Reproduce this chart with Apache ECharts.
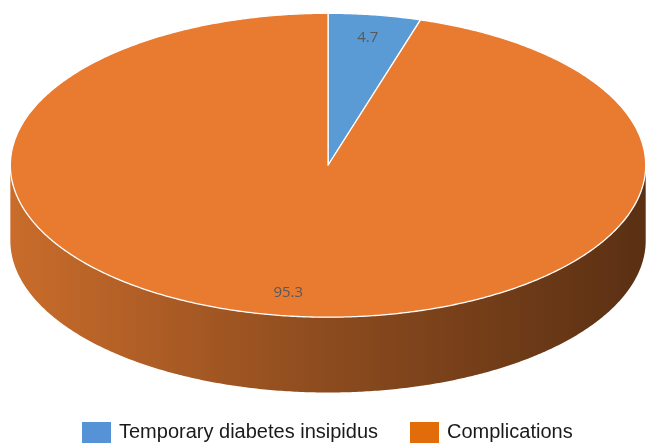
<!DOCTYPE html>
<html>
<head>
<meta charset="utf-8">
<script src="https://cdn.jsdelivr.net/npm/echarts@6/dist/echarts.min.js"></script>
<style>
html,body{margin:0;padding:0;background:#fff;}
#chart{width:647px;height:443px;}
</style>
</head>
<body>
<div id="chart"></div>
<script>
const categories = ['Temporary diabetes insipidus', 'Complications'];
const values = [4.7, 95.3];
const topColors = ['#5B9BD5', '#E97B31'];
const legendColors = ['#5592D6', '#E36C0A'];
const sideStops = ['#C96C2B', '#8C4B1E', '#5A3013'];

const total = values.reduce((a, b) => a + b, 0);

function renderItem(params, api) {
  const W = api.getWidth(), H = api.getHeight();
  const cx = W * 0.507, cy = H * 0.373, rx = W * 0.491, ry = H * 0.343, depth = H * 0.17;
  const v = api.value(0), i = api.value(1);
  let before = 0;
  for (let k = 0; k < i; k++) before += values[k];
  const start = before / total * 360;
  const end = start + v / total * 360;
  const pt = (deg, dy) => {
    const r = deg * Math.PI / 180;
    return [cx + rx * Math.sin(r), cy - ry * Math.cos(r) + (dy || 0)];
  };
  const children = [];
  // side wall (front half only)
  const a = Math.max(start, 90), b = Math.min(end, 270);
  if (a < b) {
    const pts = [];
    for (let t = a; t < b; t += 0.5) pts.push(pt(t));
    pts.push(pt(b));
    for (let t = b; t > a; t -= 0.5) pts.push(pt(t, depth));
    pts.push(pt(a, depth));
    children.push({
      type: 'polygon', z2: 1,
      shape: { points: pts },
      style: {
        fill: {
          type: 'linear', global: true, x: cx - rx, y: 0, x2: cx + rx, y2: 0,
          colorStops: [
            { offset: 0, color: sideStops[0] },
            { offset: 0.5, color: sideStops[1] },
            { offset: 1, color: sideStops[2] }
          ]
        }
      }
    });
  }
  // top face
  const top = [[cx, cy]];
  for (let t = start; t < end; t += 0.5) top.push(pt(t));
  top.push(pt(end));
  children.push({
    type: 'polygon', z2: 10,
    shape: { points: top },
    style: { fill: topColors[i], stroke: '#ffffff', lineWidth: 1.3, lineJoin: 'round' }
  });
  // label
  const mid = (start + end) / 2 * Math.PI / 180;
  children.push({
    type: 'text', z2: 20,
    x: cx + rx * 0.85 * Math.sin(mid),
    y: cy - ry * 0.85 * Math.cos(mid),
    style: {
      text: String(v), fill: '#595959',
      font: '15px "Open Sans", sans-serif',
      align: 'center', verticalAlign: 'middle'
    }
  });
  return { type: 'group', children };
}

const chart = echarts.init(document.getElementById('chart'), null, { renderer: 'canvas' });
chart.setOption({
  animation: false,
  backgroundColor: '#ffffff',
  legend: {
    top: 422,
    left: 82,
    padding: 0,
    icon: 'rect',
    itemWidth: 29,
    itemHeight: 21,
    itemGap: 32,
    selectedMode: false,
    textStyle: { fontFamily: 'Arial, "Liberation Sans", sans-serif', fontSize: 20, color: '#1a1a1a', padding: [0, 0, 0, 3] },
    data: categories.map((name, i) => ({ name, itemStyle: { color: legendColors[i] } }))
  },
  series: categories.map((name, i) => ({
    type: 'custom',
    name,
    coordinateSystem: 'none',
    itemStyle: { color: legendColors[i] },
    renderItem,
    data: [[values[i], i]]
  }))
});
</script>
</body>
</html>
